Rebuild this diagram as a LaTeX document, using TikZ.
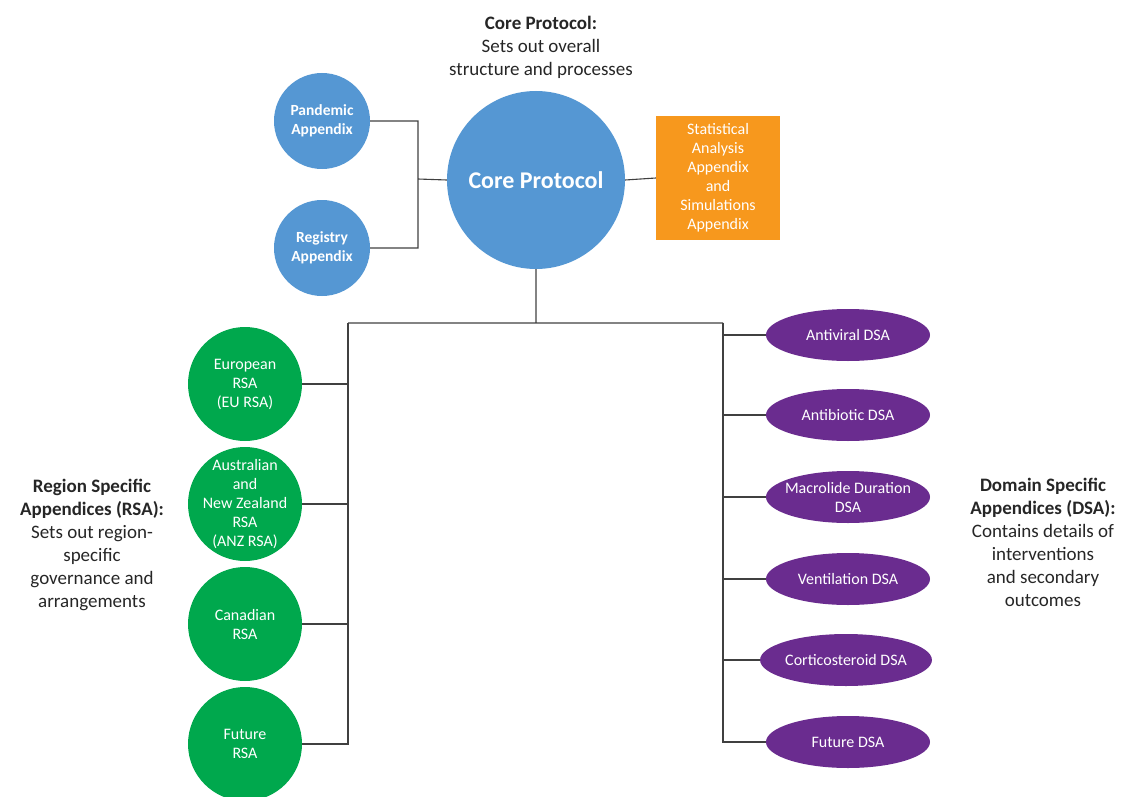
\documentclass[tikz,border=0pt]{standalone}
\usepackage{fontspec}
\setmainfont{Carlito}
\usepackage{tikz}
\usetikzlibrary{positioning,shapes.geometric}
\definecolor{coreblue}{HTML}{5597D3}
\definecolor{statorange}{HTML}{F7981D}
\definecolor{rsagreen}{HTML}{00A84D}
\definecolor{dsapurple}{HTML}{6A2C8F}
\definecolor{linkgray}{HTML}{404040}

\begin{document}
\begin{tikzpicture}[x=1pt,y=-1pt,
  bluenode/.style={circle,fill=coreblue,text=white,inner sep=0pt,align=center,
    font=\fontsize{15.5}{19}\selectfont\bfseries},
  rsanode/.style={circle,fill=rsagreen,text=white,inner sep=0pt,minimum size=114pt,
    align=center,font=\fontsize{16}{19}\selectfont},
  dsanode/.style={ellipse,fill=dsapurple,text=white,inner sep=0pt,minimum width=164pt,
    minimum height=52pt,align=center,font=\fontsize{16}{19}\selectfont},
  heading/.style={align=center,text=black!85,font=\fontsize{19}{23}\selectfont},
  link/.style={draw=linkgray,line width=1.1pt}]
\useasboundingbox (0,0) rectangle (1127,797);
% core and its appendices
\node[bluenode,minimum size=178pt,font=\fontsize{24}{27}\selectfont\bfseries] (core) at (536,180) {Core Protocol};
\node[bluenode,minimum size=96pt] (pan) at (322,121) {Pandemic\\Appendix};
\node[bluenode,minimum size=96pt] (reg) at (322,248) {Registry\\Appendix};
\node[fill=statorange,text=white,minimum width=124pt,minimum height=124pt,inner sep=0pt,
  align=center,font=\fontsize{16}{19}\selectfont] (stat) at (718,178)
  {Statistical\\Analysis\\Appendix\\and\\Simulations\\Appendix};
% region specific appendices
\node[rsanode] (eu) at (245,384) {European\\RSA\\(EU RSA)};
\node[rsanode,inner sep=-8pt] (anz) at (245,504) {Australian\\and\\New Zealand\\RSA\\(ANZ RSA)};
\node[rsanode] (can) at (245,624) {Canadian\\RSA};
\node[rsanode] (fut) at (245,744) {Future\\RSA};
% domain specific appendices
\node[dsanode] (antiv) at (848,335) {Antiviral DSA};
\node[dsanode] (antib) at (848,415) {Antibiotic DSA};
\node[dsanode,inner sep=-6pt] (macro) at (848,497) {Macrolide Duration\\DSA};
\node[dsanode] (vent) at (848,579) {Ventilation DSA};
\node[dsanode,minimum width=168pt] (cort) at (846,660) {Corticosteroid DSA};
\node[dsanode] (futd) at (848,742) {Future DSA};
% headings
\node[heading] (hcore) at (541,47) {\textbf{Core Protocol:}\\Sets out overall\\structure and processes};
\node[heading] (hrsa) at (92,545) {\textbf{Region Specific}\\\textbf{Appendices (RSA):}\\Sets out region-\\specific\\governance and\\arrangements};
\node[heading] (hdsa) at (1043,542) {\textbf{Domain Specific}\\\textbf{Appendices (DSA):}\\Contains details of\\interventions\\and secondary\\outcomes};
% joints
\coordinate (jtop) at (418,179);
\coordinate (jl) at (348,323);
\coordinate (jr) at (723,323);
\path[link]
(pan.east) -| (jtop) |- (reg.east)
(jtop) -- (core.west)
(core.east) -- (stat.west)
(core.south) |- (jl) -- (jr);
\foreach \n in {eu,anz,can,fut}
  \draw[link] (jl) |- (\n.east);
\foreach \n in {antiv,antib,macro,vent,cort,futd}
  \draw[link] (jr) |- (\n.west);
\end{tikzpicture}
\end{document}
